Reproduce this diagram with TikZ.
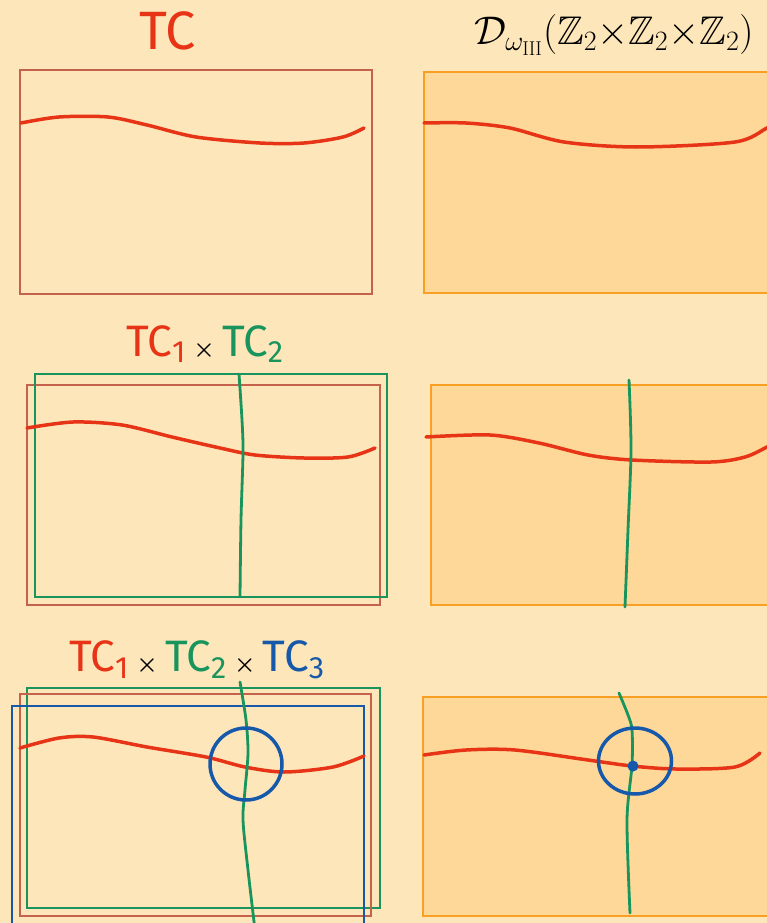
\documentclass[tikz,border=0pt]{standalone}
\usepackage{fix-cm}
\usepackage{amsmath, amssymb}
\usepackage{fontspec}
\setsansfont{Fira Sans}
\usepackage{xcolor}
\definecolor{paper}{RGB}{253,231,186}
\definecolor{tcred}{RGB}{232,52,22}
\definecolor{boxred}{RGB}{196,98,76}
\definecolor{tcgreen}{RGB}{24,148,92}
\definecolor{tcblue}{RGB}{22,88,170}
\definecolor{orangefill}{RGB}{253,216,152}
\definecolor{orangeline}{RGB}{248,160,36}
\newcommand{\tcx}{\,{\fontsize{24}{26}\selectfont\boldmath$\times$}\,}

\begin{document}
\begin{tikzpicture}[x=1pt, y=-1pt,
    label/.style={font=\sffamily\fontsize{44}{48}\selectfont, inner sep=0pt},
    redbox/.style={draw=boxred, line width=2pt},
    greenbox/.style={draw=tcgreen, line width=2pt},
    bluebox/.style={draw=tcblue, line width=2pt},
    orangebox/.style={fill=orangefill, draw=orangeline, line width=2pt},
    redline/.style={draw=tcred, line width=3.5pt, line cap=round},
    greenline/.style={draw=tcgreen, line width=2.8pt, line cap=round},
    bluering/.style={draw=tcblue, line width=3.5pt}]
    \useasboundingbox (0,0) rectangle (767,923);
    \clip (0,0) rectangle (767,923);
    \fill[paper] (0,0) rectangle (767,923);

    % labels
    \node[label, text=tcred, font=\sffamily\fontsize{54}{58}\selectfont] (tc) at (168,31) {TC};
    \node[inner sep=0pt, font=\fontsize{40}{44}\selectfont] (dw) at (614,35)
        {$\mathcal{D}_{\omega_{\mathrm{III}}}(\mathbb{Z}_2{\times}\mathbb{Z}_2{\times}\mathbb{Z}_2)$};
    \node[label] (tc12) at (205,344)
        {\textcolor{tcred}{TC\textsubscript{1}}\tcx\textcolor{tcgreen}{TC\textsubscript{2}}};
    \node[label] (tc123) at (197,660)
        {\textcolor{tcred}{TC\textsubscript{1}}\tcx\textcolor{tcgreen}{TC\textsubscript{2}}\tcx\textcolor{tcblue}{TC\textsubscript{3}}};

    % first row
    \draw[redbox] (20,70) rectangle (372,294);
    \draw[redline] plot[smooth] coordinates {(21,123) (59,117) (108,117) (147,125) (196,137) (260,143) (304,143) (343,137) (364,128)};
    \draw[orangebox] (424,72) rectangle (790,293);
    \draw[redline] plot[smooth] coordinates {(424,123) (466,123) (510,128) (564,142) (637,147) (735,142) (767,128) (780,122)};

    % second row
    \draw[redbox] (27,385) rectangle (380,605);
    \draw[greenbox] (35,374) rectangle (387,597);
    \draw[redline] plot[smooth] coordinates {(27,428) (73,422) (122,425) (172,437) (220,448) (255,455) (304,458) (348,457) (375,448)};
    \draw[greenline] plot[smooth] coordinates {(239,374) (242,420) (243,453) (241,520) (240,597)};
    \draw[orangebox] (431,385) rectangle (790,605);
    \draw[redline] plot[smooth] coordinates {(426,437) (490,435) (539,443) (588,455) (632,460) (711,462) (745,457) (767,447) (780,440)};
    \draw[greenline] plot[smooth] coordinates {(629,380) (631,450) (628,530) (625,607)};

    % third row
    \draw[greenbox] (27,688) rectangle (380,908);
    \draw[redbox] (20,694) rectangle (371,916);
    \draw[bluebox] (12,706) rectangle (364,940);
    \draw[redline] plot[smooth] coordinates {(20,748) (59,738) (93,737) (147,747) (206,757) (245,767) (284,772) (333,767) (364,756)};
    \draw[greenline] plot[smooth] coordinates {(240,682) (246,720) (248,753) (245,790) (243,820) (248,870) (255,930)};
    \draw[bluering] (246,764) circle (36);
    \draw[orangebox] (423,697) rectangle (790,916);
    \draw[redline] plot[smooth] coordinates {(424,755) (466,750) (515,750) (588,760) (632,766) (676,769) (735,767) (760,753)};
    \draw[greenline] plot[smooth] coordinates {(619,693) (628,715) (632,730) (632,765) (627,820) (630,913)};
    \draw[bluering] (635,761) ellipse (36.5 and 33);
    \fill[tcblue] (633,766) circle (5.5);
\end{tikzpicture}
\end{document}
